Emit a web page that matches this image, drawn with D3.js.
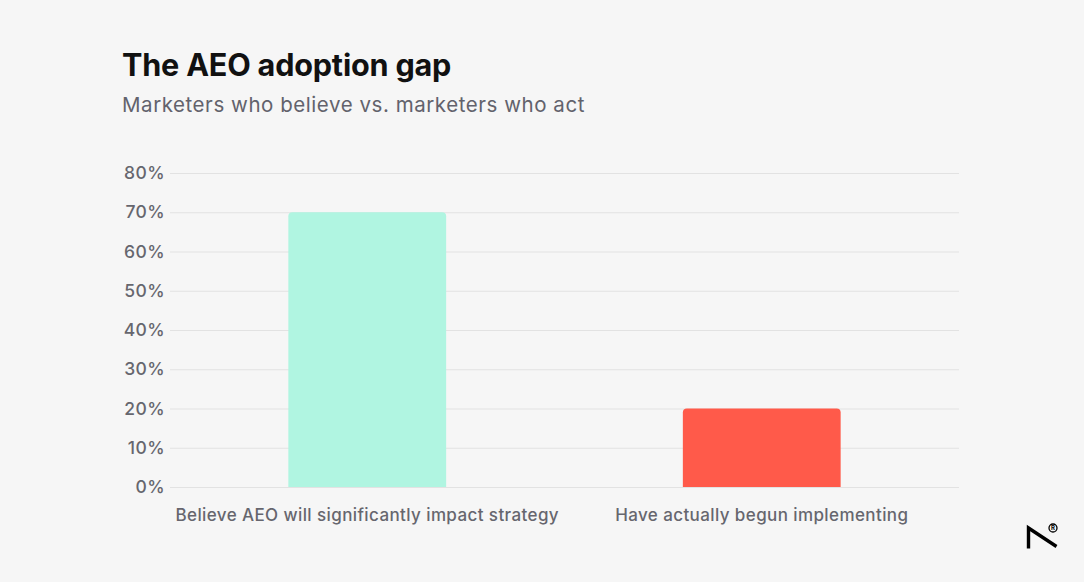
<!DOCTYPE html>
<html>
<head>
<meta charset="utf-8">
<script src="https://cdn.jsdelivr.net/npm/d3@7"></script>
<style>
  html, body { margin: 0; padding: 0; background: #f6f6f6; }
  svg { display: block; }
</style>
</head>
<body>
<svg id="chart" width="1084" height="582"></svg>
<script>
const title = "The AEO adoption gap";
const subtitle = "Marketers who believe vs. marketers who act";
const categories = ["Believe AEO will significantly impact strategy", "Have actually begun implementing"];
const values = [70, 20];
const colors = ["#b0f5e1", "#ff5a4a"];
const yTicks = [0, 10, 20, 30, 40, 50, 60, 70, 80];

(function () {
const svg = d3.select("#chart");
const W = 1084, H = 582;
svg.append("rect").attr("width", W).attr("height", H).attr("fill", "#f6f6f6");

const mLeft = 170, mRight = 959, mTop = 173, mBottom = 487;
const x = d3.scaleBand().domain(categories).range([mLeft, mRight]).paddingInner(0.6).paddingOuter(0.3);
const y = d3.scaleLinear().domain([0, 80]).range([mBottom, mTop]);

svg.append("text").attr("x", 122).attr("y", 76)
  .attr("font-family", "Inter, 'DejaVu Sans', sans-serif").attr("font-weight", 700)
  .attr("font-size", 30.6).attr("fill", "#111").attr("letter-spacing", -0.2).text(title);
svg.append("text").attr("x", 122).attr("y", 112)
  .attr("font-family", "Inter, sans-serif").attr("font-size", 20.5)
  .attr("letter-spacing", 0.55)
  .attr("fill", "#62626c").text(subtitle);

const yAxis = d3.axisLeft(y).tickValues(yTicks).tickFormat(d => d + "%").tickSize(-(mRight - mLeft)).tickPadding(6);
const gy = svg.append("g").attr("transform", `translate(${mLeft},0)`).call(yAxis);
gy.select(".domain").remove();
gy.selectAll(".tick line").attr("stroke", "#e2e2e2").attr("stroke-width", 1.2);
gy.selectAll(".tick text").attr("font-family", "Inter, sans-serif").attr("font-size", 17.5)
  .attr("font-weight", 500).attr("letter-spacing", 0.4)
  .attr("fill", "#66666e").attr("x", -5);

const r = 4;
function barPath(x0, w, yT, yB) {
  return `M${x0},${yB}V${yT + r}Q${x0},${yT} ${x0 + r},${yT}H${x0 + w - r}Q${x0 + w},${yT} ${x0 + w},${yT + r}V${yB}Z`;
}
svg.selectAll("path.bar").data(categories).join("path").attr("class", "bar")
  .attr("d", (d, i) => barPath(x(d), x.bandwidth(), y(values[i]), y(0)))
  .attr("fill", (d, i) => colors[i]);

const xAxis = d3.axisBottom(x).tickSize(0).tickPadding(22);
const gx = svg.append("g").attr("transform", `translate(0,${mBottom})`).call(xAxis);
gx.select(".domain").remove();
gx.selectAll(".tick text").attr("font-family", "Inter, sans-serif").attr("font-size", 17)
  .attr("font-weight", 500).attr("letter-spacing", 0.4)
  .attr("fill", "#66666e");

const logo = svg.append("g");
logo.append("path").attr("d", "M1028.5,548.5V528L1056.5,546.5")
  .attr("fill", "none").attr("stroke", "#000").attr("stroke-width", 3.4).attr("stroke-linejoin", "miter");
logo.append("circle").attr("cx", 1053).attr("cy", 528).attr("r", 4).attr("fill", "none").attr("stroke", "#000").attr("stroke-width", 1.3);
logo.append("text").attr("x", 1053).attr("y", 530.3).attr("text-anchor", "middle").attr("font-size", 6)
  .attr("font-family", "Inter, sans-serif").attr("font-weight", 700).text("R");
})();
</script>
</body>
</html>
